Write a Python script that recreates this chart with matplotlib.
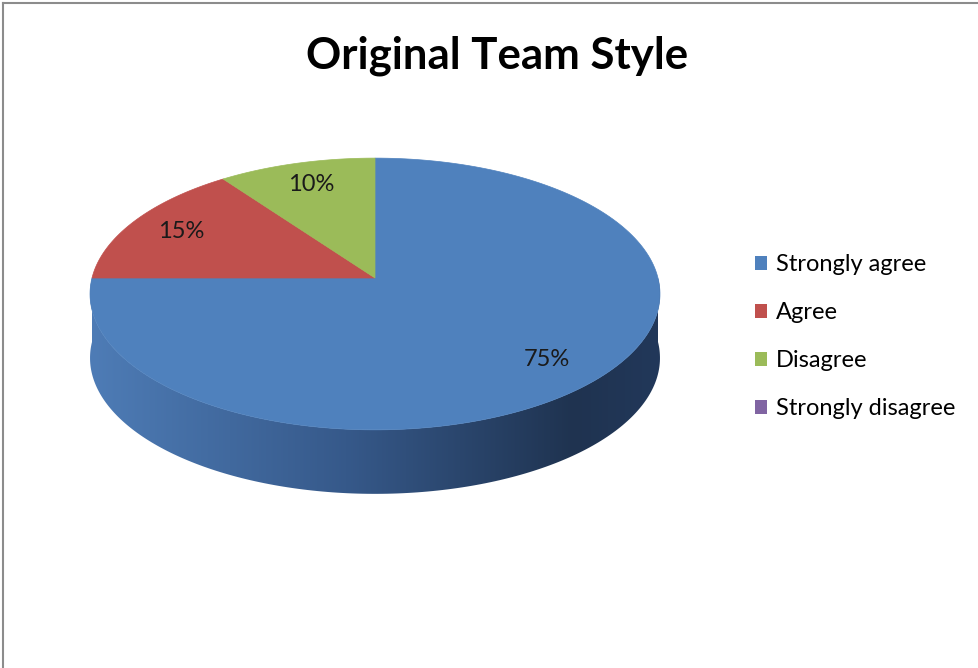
import numpy as np
import matplotlib
matplotlib.use("Agg")
import matplotlib.pyplot as plt
from matplotlib.patches import Polygon, Patch
from matplotlib.colors import LinearSegmentedColormap
from matplotlib.lines import Line2D

# dados do grafico
categorias = ["Strongly agree", "Agree", "Disagree", "Strongly disagree"]
valores = [75, 15, 10, 0]
rotulos = ["75%", "15%", "10%", ""]
cores = ["#4f81bd", "#c0504d", "#9bbb59", "#8064a2"]
titulo = "Original Team Style"

plt.rcParams["font.family"] = ["Lato", "DejaVu Sans"]

W, H = 979, 668
fig = plt.figure(figsize=(W / 100, H / 100), dpi=100)
ax = fig.add_axes([0, 0, 1, 1])
ax.set_xlim(0, W)
ax.set_ylim(H, 0)
ax.axis("off")

# geometria da pizza 3D (pixels)
cx, cy = 375, 278
a, b, k = 283, 134, 0.1176
prof = 64


def proj(r, theta):
    u = r * np.cos(theta)
    v = r * np.sin(theta)
    d = 1 + k * v
    return cx + a * u / d, cy - b * v / d


# lateral (parte da frente) com degrade
t = np.radians(np.linspace(180, 360, 200))
xs, ys = proj(1.0, t)
lado = np.concatenate([np.column_stack([xs, ys]),
                       np.column_stack([xs[::-1], ys[::-1] + prof])])
lado_patch = Polygon(lado, closed=True, facecolor="none", edgecolor="none")
ax.add_patch(lado_patch)
cmap = LinearSegmentedColormap.from_list(
    "lado", [(0, "#4e7cb6"), (0.45, "#36598a"), (0.85, "#1f3350"), (1.0, "#22385a")])
grad = np.linspace(0, 1, 256)[None, :]
im = ax.imshow(grad, cmap=cmap, aspect="auto",
               extent=[xs.min(), xs.max(), ys.max() + prof, ys.min()], zorder=1)
im.set_clip_path(lado_patch)
ax.set_xlim(0, W)
ax.set_ylim(H, 0)

# topo das fatias
total = sum(valores)
inicio = 90.0
for val, cor, rot in zip(valores, cores, rotulos):
    if val == 0:
        continue
    fim = inicio - 360.0 * val / total
    ang = np.radians(np.linspace(inicio, fim, 200))
    px, py = proj(1.0, ang)
    pts = np.column_stack([np.r_[cx, px], np.r_[cy, py]])
    ax.add_patch(Polygon(pts, closed=True, facecolor=cor, edgecolor=cor,
                         linewidth=0.5, zorder=2))
    meio = np.radians((inicio + fim) / 2)
    lx, ly = proj(0.8, meio)
    ax.text(lx, ly, rot, ha="center", va="center", fontsize=17,
            color="#1a1a1a", zorder=3)
    inicio = fim

# titulo
fig.text(497 / W, 1 - 56 / H, titulo, ha="center", va="center",
         fontsize=31.5, fontweight="bold", color="black")

# legenda
handles = [Patch(facecolor=c, edgecolor="none") for c in cores]
fig.legend(handles, categorias, loc="upper left",
           bbox_to_anchor=(755 / W, 1 - 254 / H), frameon=False,
           fontsize=17, handlelength=0.52, handleheight=0.52,
           handletextpad=0.38, labelspacing=1.15, borderpad=0,
           borderaxespad=0)

# moldura cinza (so topo e esquerda visiveis)
fig.add_artist(Line2D([3 / W, 3 / W], [0, 1 - 3 / H], color="#8c8c8c",
                      linewidth=1.5, transform=fig.transFigure))
fig.add_artist(Line2D([3 / W, 1], [1 - 3 / H, 1 - 3 / H], color="#8c8c8c",
                      linewidth=1.5, transform=fig.transFigure))

fig.savefig("out.png", dpi=100)
